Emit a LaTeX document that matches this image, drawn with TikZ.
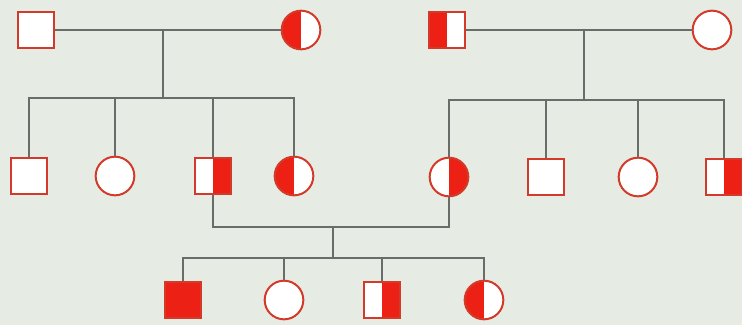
\documentclass[tikz,border=0pt]{standalone}
\begin{document}
\begin{tikzpicture}[x=0.75pt,y=-0.75pt]
\definecolor{bgc}{RGB}{230,236,227}
\definecolor{redf}{RGB}{236,32,20}
\definecolor{bord}{RGB}{212,58,42}
\definecolor{linec}{RGB}{105,108,104}
\tikzset{
  person/.style={draw=bord, fill=white, line width=1.5pt, inner sep=0pt},
  male/.style={person, rectangle, minimum size=27pt},
  female/.style={person, circle, minimum size=29pt},
  halfL/.style={path picture={\fill[redf] (path picture bounding box.south west) rectangle (path picture bounding box.north);}},
  halfR/.style={path picture={\fill[redf] (path picture bounding box.south east) rectangle (path picture bounding box.north);}},
  full/.style={fill=redf},
  conn/.style={draw=linec, line width=1.1pt}
}
\fill[bgc] (0,0) rectangle (742,325);
\useasboundingbox (0,0) rectangle (742,325);
% generation I
\node[male] (A) at (36,30) {};
\node[female, halfL] (B) at (301,30) {};
\node[male, halfL] (C) at (447,30) {};
\node[female] (D) at (712,30) {};
% generation II
\node[male] (E) at (29,176) {};
\node[female] (F) at (115,176) {};
\node[male, halfR] (G) at (213,176) {};
\node[female, halfL] (H) at (294,176) {};
\node[female, halfR] (I) at (449,177) {};
\node[male] (J) at (546,177) {};
\node[female] (K) at (638,177) {};
\node[male, halfR] (L) at (724,177) {};
% generation III
\node[male, full] (M) at (183,300) {};
\node[female] (N) at (284,300) {};
\node[male, halfR] (O) at (382,300) {};
\node[female, halfL] (P) at (484,300) {};
% connectors
\coordinate (j1) at (163,30);
\coordinate (s1) at (163,98);
\coordinate (j2) at (584,30);
\coordinate (s2) at (584,100);
\coordinate (c3) at (333,227);
\coordinate (s3) at (333,258);
\begin{scope}[on background layer/.style={}]
\draw[conn] (A) -- (B);
\draw[conn] (j1) -- (s1);
\draw[conn] (E.north) |- (H.north |- s1) -- (H.north);
\foreach \n in {F,G} \draw[conn] (\n.north) -- (\n.north |- s1);
\draw[conn] (C) -- (D);
\draw[conn] (j2) -- (s2);
\draw[conn] (I.north) |- (L.north |- s2) -- (L.north);
\foreach \n in {J,K} \draw[conn] (\n.north) -- (\n.north |- s2);
\draw[conn] (G.south) |- (c3) -| (I.south);
\draw[conn] (c3) -- (s3);
\draw[conn] (M.north) |- (P.north |- s3) -- (P.north);
\foreach \n in {N,O} \draw[conn] (\n.north) -- (\n.north |- s3);
\end{scope}
\end{tikzpicture}
\end{document}
